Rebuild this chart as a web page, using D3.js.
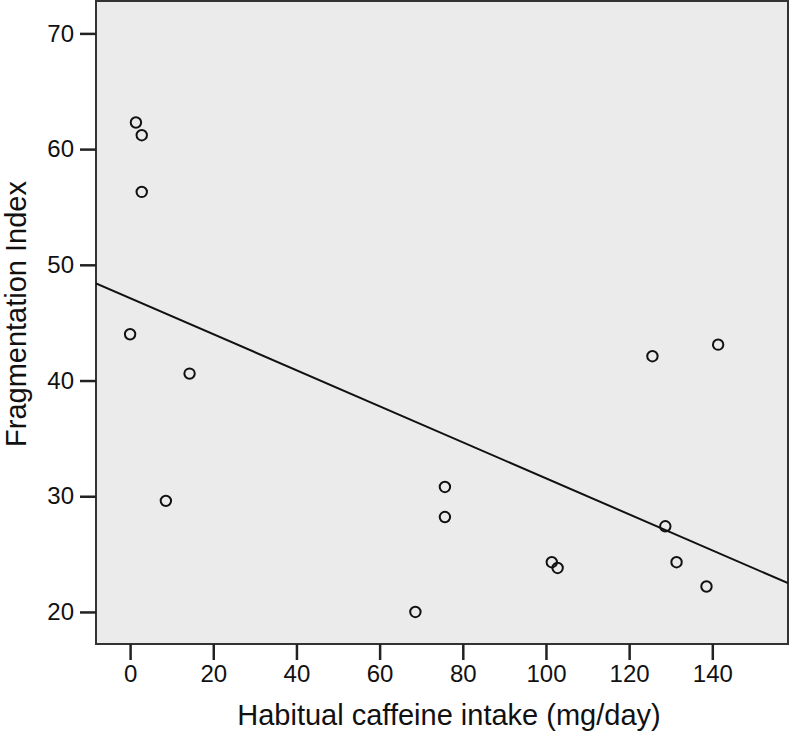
<!DOCTYPE html>
<html><head><meta charset="utf-8">
<script src="https://cdn.jsdelivr.net/npm/d3@7"></script>
<style>html,body{margin:0;padding:0;background:#fff;}svg{display:block;font-family:"Liberation Sans",Arial,sans-serif;}</style>
</head><body>
<script>
const caffeine = [1.4, 2.8, 2.8, 0, 14.3, 8.6, 75.7, 75.7, 101.4, 102.8, 68.6, 125.6, 141.4, 128.7, 131.4, 138.6];
const fragIndex = [62.3, 61.2, 56.3, 44.0, 40.6, 29.6, 30.8, 28.2, 24.3, 23.8, 20.0, 42.1, 43.1, 27.4, 24.3, 22.2];
const fitIntercept = 47.12;
const fitSlope = -0.1557;
const xTicks = [0, 20, 40, 60, 80, 100, 120, 140];
const yTicks = [20, 30, 40, 50, 60, 70];
const xTitle = "Habitual caffeine intake (mg/day)";
const yTitle = "Fragmentation Index";

const W = 792, H = 734;
const m = {left: 96, right: 4, top: 1, bottom: 90};
const svg = d3.select("body").append("svg").attr("width", W).attr("height", H);
const x = d3.scaleLinear().domain([-8.2, 158.2]).range([m.left, W - m.right]);
const y = d3.scaleLinear().domain([17.23, 72.8]).range([H - m.bottom, m.top]);

svg.append("rect").attr("x", m.left).attr("y", m.top)
  .attr("width", W - m.right - m.left).attr("height", H - m.bottom - m.top)
  .attr("fill", "#ebebeb").attr("stroke", "#333").attr("stroke-width", 2);

const xAxis = svg.append("g").attr("transform", `translate(0,${H - m.bottom})`)
  .call(d3.axisBottom(x).tickValues(xTicks).tickSize(16).tickPadding(5).tickFormat(d3.format("d")));
const yAxis = svg.append("g").attr("transform", `translate(${m.left},0)`)
  .call(d3.axisLeft(y).tickValues(yTicks).tickSize(16).tickPadding(6).tickFormat(d3.format("d")));
[xAxis, yAxis].forEach(a => {
  a.select(".domain").remove();
  a.selectAll(".tick line").attr("stroke", "#222").attr("stroke-width", 2.5);
  a.selectAll(".tick text").attr("fill", "#111").style("font-size", "24px").style("font-family", '"Liberation Sans",Arial,sans-serif');
});

svg.append("clipPath").attr("id", "c").append("rect")
  .attr("x", m.left).attr("y", m.top).attr("width", W - m.right - m.left).attr("height", H - m.bottom - m.top);
const xd = x.domain();
svg.append("line").attr("clip-path", "url(#c)")
  .attr("x1", x(xd[0])).attr("y1", y(fitIntercept + fitSlope * xd[0]))
  .attr("x2", x(xd[1])).attr("y2", y(fitIntercept + fitSlope * xd[1]))
  .attr("stroke", "#111").attr("stroke-width", 2);

svg.append("g").selectAll("circle").data(caffeine.map((c, i) => [c, fragIndex[i]]))
  .join("circle").attr("cx", d => x(d[0])).attr("cy", d => y(d[1])).attr("r", 5.2)
  .attr("fill", "none").attr("stroke", "#111").attr("stroke-width", 2);

svg.append("text").attr("x", 449).attr("y", 725).attr("text-anchor", "middle")
  .style("font-size", "29px").attr("fill", "#111").text(xTitle);
svg.append("text").attr("transform", `translate(26,314) rotate(-90)`)
  .attr("text-anchor", "middle").style("font-size", "29px").attr("fill", "#111").text(yTitle);
</script>
</body></html>
